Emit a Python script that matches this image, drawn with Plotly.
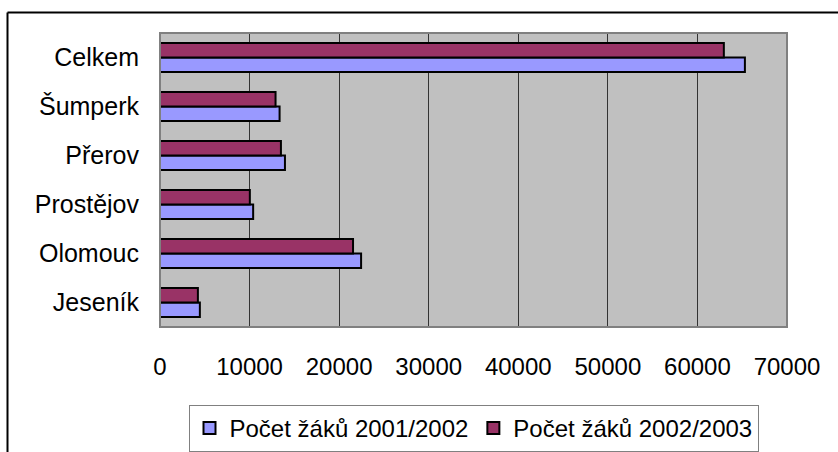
import plotly.graph_objects as go

categories = ["Jeseník", "Olomouc", "Prostějov", "Přerov", "Šumperk", "Celkem"]
zaci_2001 = [4450, 22450, 10400, 13950, 13350, 65300]
zaci_2002 = [4230, 21550, 10030, 13500, 12900, 62950]
x_ticks = [0, 10000, 20000, 30000, 40000, 50000, 60000, 70000]

_FONT = "Liberation Sans, Arial, sans-serif"

fig = go.Figure()
fig.add_trace(go.Bar(
    y=categories, x=zaci_2001, orientation="h", name="Počet žáků 2001/2002",
    marker=dict(color="#9999FF", line=dict(color="#000000", width=2))))
fig.add_trace(go.Bar(
    y=categories, x=zaci_2002, orientation="h", name="Počet žáků 2002/2003",
    marker=dict(color="#993366", line=dict(color="#000000", width=2))))

# plot area: x 160..787, y 33..327 px
W, H = 838, 452
L, R, T, B = 160, 51, 33, 125
pw, ph = W - L - R, H - T - B


def px_x(v):
    return (v - L) / pw


def px_y(v):
    return (H - B - v) / ph


shapes = [
    # plot area border
    dict(type="rect", xref="paper", yref="paper", x0=0, x1=1, y0=0, y1=1,
         line=dict(color="#808080", width=2), layer="above"),
    # outer chart frame (only left/top edges are inside the picture)
    dict(type="line", xref="paper", yref="paper", x0=px_x(7.5), x1=px_x(7.5),
         y0=px_y(12.5), y1=px_y(460), line=dict(color="#000000", width=2)),
    dict(type="line", xref="paper", yref="paper", x0=px_x(7.5), x1=px_x(845),
         y0=px_y(12.5), y1=px_y(12.5), line=dict(color="#000000", width=2)),
]

fig.update_layout(
    width=W, height=H, barmode="group", bargap=0.41, bargroupgap=0,
    paper_bgcolor="white", plot_bgcolor="#C0C0C0",
    margin=dict(l=L, r=R, t=T, b=B, autoexpand=False),
    font=dict(family=_FONT, size=24, color="#000000"),
    shapes=shapes,
    legend=dict(orientation="h", x=0.5, xanchor="center", y=px_y(405),
                yanchor="top", traceorder="normal",
                bordercolor="#808080", borderwidth=1, bgcolor="white",
                font=dict(size=24), itemwidth=30),
    xaxis=dict(range=[0, 70000], tickvals=x_ticks, tickformat="d",
               showgrid=True, gridcolor="#333333", gridwidth=1,
               zeroline=False, showline=True, linecolor="#404040", linewidth=1,
               ticks="outside", ticklen=18, tickcolor="rgba(0,0,0,0)",
               tickfont=dict(size=24), fixedrange=True),
    yaxis=dict(showgrid=False, zeroline=False, showline=True,
               linecolor="#404040", linewidth=1,
               ticks="outside", ticklen=15, tickcolor="rgba(0,0,0,0)",
               tickfont=dict(size=25), fixedrange=True),
)

fig.write_html("out.html", config={"displayModeBar": False},
               post_script="document.body.style.margin='0';")
